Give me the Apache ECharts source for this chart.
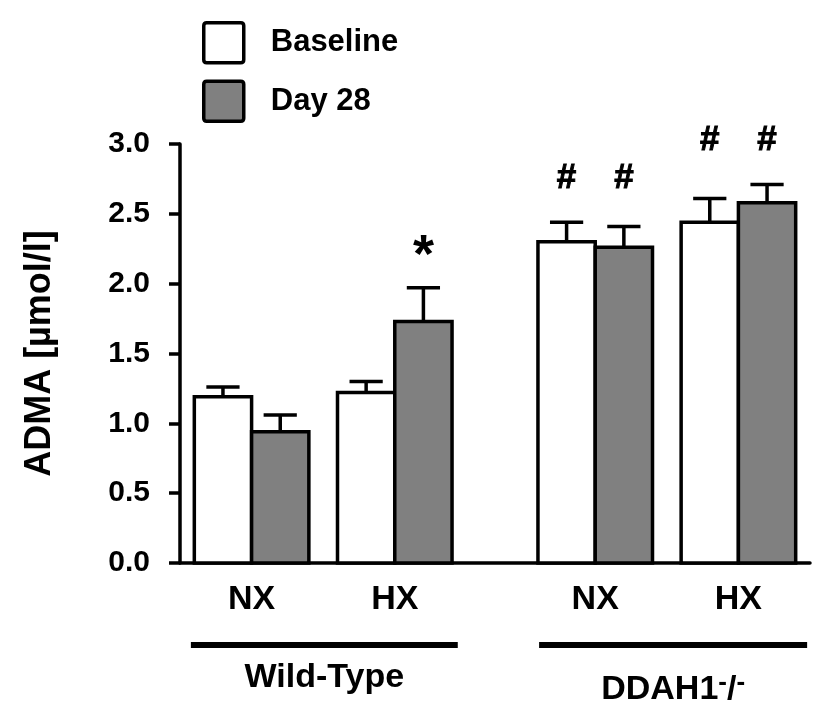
<!DOCTYPE html>
<html>
<head>
<meta charset="utf-8">
<script src="https://cdn.jsdelivr.net/npm/echarts@6/dist/echarts.min.js"></script>
<style>
    html, body { margin: 0; padding: 0; background: #fff; }
    #chart { width: 827px; height: 720px; }
</style>
</head>
<body>
<div id="chart"></div>
<script>
// condition labels and where each bar pair sits on the (hidden) x scale
const conditions = ['NX', 'HX', 'NX', 'HX'];
const conditionPos = [1.25, 3.75, 7.25, 9.75];
const groupNames = ['Wild-Type', 'DDAH1-/-'];
const groupSpans = [[0.19, 4.85], [6.27, 10.95]];

// ADMA [µmol/l], mean and SEM
const baseline = [1.19, 1.22, 2.30, 2.44];
const baselineSem = [0.07, 0.08, 0.14, 0.17];
const day28 = [0.94, 1.73, 2.26, 2.58];
const day28Sem = [0.12, 0.24, 0.15, 0.13];

// significance marks
const baselineMarks = ['', '', '#', '#'];
const day28Marks = ['', '*', '#', '#'];

const FONT = "'Liberation Sans', Arial, Helvetica, sans-serif";
const LINE = 3.5;

const chart = echarts.init(document.getElementById('chart'));

/**
 * Bar + upper error bar + significance mark, drawn through the grid scales.
 */
function barSeries(name, values, sems, marks, side, color) {
    return {
        name: name,
        type: 'custom',
        itemStyle: { color: color, borderColor: '#000', borderWidth: LINE },
        data: values.map(function (v, i) {
            return [conditionPos[i] + side * 0.5, v, sems[i]];
        }),
        encode: { x: 0, y: 1 },
        renderItem: function (params, api) {
            const i = params.dataIndex;
            const x = api.value(0);
            const v = api.value(1);
            const e = api.value(2);
            const w = api.size([1, 0])[0];
            const base = api.coord([x, 0]);
            const top = api.coord([x, v]);
            const errTop = api.coord([x, v + e]);
            const cap = w * 0.58;
            const children = [{
                type: 'line',
                shape: { x1: top[0], y1: top[1], x2: errTop[0], y2: errTop[1] },
                style: { stroke: '#000', lineWidth: LINE }
            }, {
                type: 'line',
                shape: { x1: errTop[0] - cap / 2, y1: errTop[1], x2: errTop[0] + cap / 2, y2: errTop[1] },
                style: { stroke: '#000', lineWidth: LINE }
            }, {
                type: 'rect',
                shape: { x: base[0] - w / 2, y: top[1], width: w, height: base[1] - top[1] },
                style: { fill: color, stroke: '#000', lineWidth: LINE }
            }];
            if (marks[i]) {
                const pairMax = Math.max(baseline[i] + baselineSem[i], day28[i] + day28Sem[i]);
                const my = api.coord([x, pairMax])[1] - 44;
                const star = marks[i] === '*';
                children.push({
                    type: 'text',
                    x: top[0],
                    y: my + (star ? 13 : 0),
                    style: {
                        text: marks[i],
                        fontFamily: FONT,
                        fontWeight: 'bold',
                        fontSize: star ? 54 : 35,
                        fill: '#000',
                        stroke: '#000',
                        lineWidth: star ? 0 : 1,
                        align: 'center',
                        verticalAlign: 'middle'
                    }
                });
            }
            return { type: 'group', children: children };
        }
    };
}

const conditionSeries = {
    name: 'conditions',
    type: 'custom',
    silent: true,
    data: conditionPos.map(function (p) { return [p, 0]; }),
    encode: { x: 0, y: 1 },
    renderItem: function (params, api) {
        const pt = api.coord([api.value(0), 0]);
        return {
            type: 'text',
            x: pt[0],
            y: pt[1] + 37,
            style: {
                text: conditions[params.dataIndex],
                fontFamily: FONT,
                fontWeight: 'bold',
                fontSize: 34,
                fill: '#000',
                align: 'center',
                verticalAlign: 'middle'
            }
        };
    }
};

const groupSeries = {
    name: 'groups',
    type: 'custom',
    silent: true,
    data: groupSpans.map(function (s) { return [s[0], 0, s[1]]; }),
    encode: { x: [0, 2], y: 1 },
    renderItem: function (params, api) {
        const a = api.coord([api.value(0), 0]);
        const b = api.coord([api.value(2), 0]);
        const label = groupNames[params.dataIndex];
        const sup = label.indexOf('-/-') >= 0;
        const text = sup
            ? '{m|' + label.replace('-/-', '') + '}{s|-}{m|/}{s|-}'
            : '{m|' + label + '}';
        return {
            type: 'group',
            children: [{
                type: 'line',
                shape: { x1: a[0], y1: a[1] + 82, x2: b[0], y2: b[1] + 82 },
                style: { stroke: '#000', lineWidth: 6 }
            }, {
                type: 'text',
                x: (a[0] + b[0]) / 2,
                y: a[1] + 115 + (sup ? 12 : 0),
                style: {
                    text: text,
                    align: 'center',
                    verticalAlign: 'middle',
                    rich: {
                        m: { fontFamily: FONT, fontWeight: 'bold', fontSize: 34, fill: '#000', lineHeight: 40 },
                        s: { fontFamily: FONT, fontWeight: 'bold', fontSize: 26, fill: '#000', verticalAlign: 'top', lineHeight: 40 }
                    }
                }
            }]
        };
    }
};

const options = {
    animation: false,
    legend: {
        data: ['Baseline', 'Day 28'],
        orient: 'vertical',
        left: 197,
        top: 16,
        itemWidth: 40,
        itemHeight: 40,
        itemGap: 15,
        icon: 'path://M3,0 L37,0 Q40,0 40,3 L40,37 Q40,40 37,40 L3,40 Q0,40 0,37 L0,3 Q0,0 3,0 Z',
        selectedMode: false,
        itemStyle: { borderColor: '#000', borderWidth: LINE },
        textStyle: {
            fontFamily: FONT,
            fontWeight: 'bold',
            fontSize: 31,
            color: '#000',
            padding: [0, 0, 0, 22]
        }
    },
    grid: { left: 180, right: 17, top: 144, bottom: 157 },
    xAxis: {
        type: 'value',
        min: 0,
        max: 11,
        axisLine: { show: true, lineStyle: { color: '#000', width: LINE } },
        axisTick: { show: false },
        axisLabel: { show: false },
        splitLine: { show: false }
    },
    yAxis: {
        type: 'value',
        min: 0,
        max: 3,
        interval: 0.5,
        name: 'ADMA [µmol/l]',
        nameLocation: 'middle',
        nameGap: 122,
        nameTextStyle: { fontFamily: FONT, fontWeight: 'bold', fontSize: 36, color: '#000' },
        axisLine: { show: true, lineStyle: { color: '#000', width: LINE } },
        axisTick: { show: true, length: 11, lineStyle: { color: '#000', width: LINE } },
        axisLabel: {
            margin: 30,
            fontFamily: FONT,
            fontWeight: 'bold',
            fontSize: 30,
            color: '#000',
            formatter: function (v) { return v.toFixed(1); }
        },
        splitLine: { show: false }
    },
    series: [
        barSeries('Baseline', baseline, baselineSem, baselineMarks, -1, '#ffffff'),
        barSeries('Day 28', day28, day28Sem, day28Marks, 1, '#808080'),
        conditionSeries,
        groupSeries
    ]
};

chart.setOption(options);
</script>
</body>
</html>
